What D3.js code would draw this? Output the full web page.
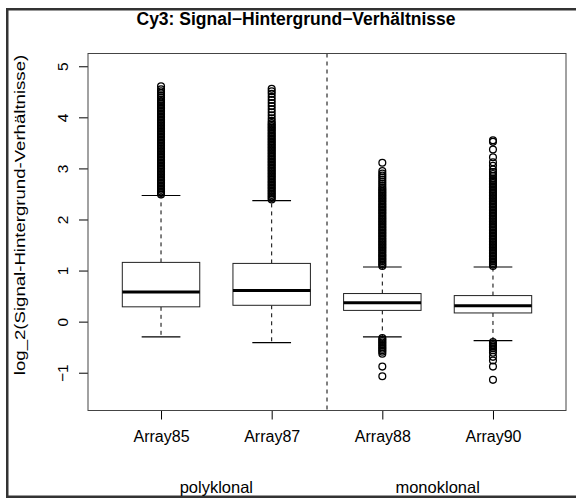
<!DOCTYPE html>
<html>
<head>
<meta charset="utf-8">
<script src="https://cdn.jsdelivr.net/npm/d3@7"></script>
<style>
  body { margin: 0; background: #fff; }
  text { font-family: 'Liberation Sans', Arial, Helvetica, sans-serif; fill: #000; }
</style>
</head>
<body>
<script>
// boxplot stats
var categories = ['Array85', 'Array87', 'Array88', 'Array90'];
var groups = ['polyklonal', 'monoklonal'];
var groupPos = [1.5, 3.5];
var lowWhisker = [-0.30, -0.41, -0.30, -0.37];
var q1 = [0.29, 0.32, 0.22, 0.17];
var median = [0.58, 0.61, 0.37, 0.31];
var q3 = [1.16, 1.14, 0.55, 0.51];
var highWhisker = [2.47, 2.37, 1.07, 1.07];
var yTicks = [-1, 0, 1, 2, 3, 4, 5];

// outliers per array
var out85 = [2.49, 2.52, 2.55, 2.58, 2.61, 2.64, 2.67, 2.70, 2.73, 2.76, 2.79, 2.82, 2.85, 2.88, 2.91,
  2.94, 2.97, 3.00, 3.03, 3.06, 3.09, 3.12, 3.15, 3.18, 3.21, 3.24, 3.27, 3.30, 3.33, 3.36, 3.39,
  3.42, 3.45, 3.48, 3.51, 3.54, 3.57, 3.60, 3.63, 3.66, 3.69, 3.72, 3.75, 3.78, 3.81, 3.84, 3.87,
  3.90, 3.93, 3.96, 3.99, 4.02, 4.05, 4.08, 4.11, 4.14, 4.17, 4.20, 4.23, 4.26, 4.29, 4.32, 4.35,
  4.39, 4.43, 4.47, 4.51, 4.55, 4.61];
var out87 = [2.39, 2.42, 2.45, 2.48, 2.51, 2.54, 2.57, 2.60, 2.63, 2.66, 2.69, 2.72, 2.75, 2.78, 2.81,
  2.84, 2.87, 2.90, 2.93, 2.96, 2.99, 3.02, 3.05, 3.08, 3.11, 3.14, 3.17, 3.20, 3.23, 3.26, 3.29,
  3.32, 3.35, 3.38, 3.41, 3.44, 3.47, 3.50, 3.53, 3.56, 3.59, 3.62, 3.65, 3.68, 3.71, 3.74, 3.77,
  3.80, 3.83, 3.86, 3.89, 3.93, 3.98, 4.04, 4.10, 4.16, 4.22, 4.28, 4.34, 4.40, 4.46, 4.51, 4.56];
var out88 = [1.09, 1.12, 1.15, 1.18, 1.21, 1.24, 1.27, 1.30, 1.33, 1.36, 1.39, 1.42, 1.45, 1.48, 1.51,
  1.54, 1.57, 1.60, 1.63, 1.66, 1.69, 1.72, 1.75, 1.78, 1.81, 1.84, 1.87, 1.90, 1.93, 1.96, 1.99,
  2.02, 2.05, 2.08, 2.11, 2.14, 2.17, 2.20, 2.23, 2.26, 2.29, 2.32, 2.35, 2.38, 2.41, 2.44, 2.47,
  2.50, 2.53, 2.56, 2.59, 2.62, 2.66, 2.70, 2.74, 2.78, 2.82, 2.86, 2.90, 2.95, 3.11,
  -0.32, -0.35, -0.38, -0.41, -0.44, -0.47, -0.50, -0.53, -0.56, -0.59, -0.63, -0.88, -1.07];
var out90 = [1.09, 1.12, 1.15, 1.18, 1.21, 1.24, 1.27, 1.30, 1.33, 1.36, 1.39, 1.42, 1.45, 1.48, 1.51,
  1.54, 1.57, 1.60, 1.63, 1.66, 1.69, 1.72, 1.75, 1.78, 1.81, 1.84, 1.87, 1.90, 1.93, 1.96, 1.99,
  2.02, 2.05, 2.08, 2.11, 2.14, 2.17, 2.20, 2.23, 2.26, 2.29, 2.32, 2.35, 2.38, 2.41, 2.44, 2.47,
  2.50, 2.53, 2.56, 2.59, 2.62, 2.65, 2.68, 2.71, 2.74, 2.77, 2.80, 2.85, 2.89, 2.93, 2.98, 3.05,
  3.12, 3.22, 3.37, 3.52, 3.55,
  -0.40, -0.43, -0.46, -0.49, -0.52, -0.56, -0.61, -0.69, -0.76, -0.88, -1.14];
var outliers = [out85, out87, out88, out90];

var
  width = 576,
  height = 498,
  plot = { left: 88, right: 566, top: 53.5, bottom: 410.5 },
  boxHalf = 0.35,
  svg = d3.select('body').append('svg')
    .attr('width', width)
    .attr('height', height);

var x = d3.scaleLinear()
  .domain([0.34, 4.66])
  .range([plot.left, plot.right]);

var y = d3.scaleLinear()
  .domain([-1.74, 5.25])
  .range([plot.bottom, plot.top]);

// outer frame
svg.append('rect')
  .attr('x', 7.25).attr('y', 9.25)
  .attr('width', 600).attr('height', 487.5)
  .attr('fill', 'none')
  .attr('stroke', '#333')
  .attr('stroke-width', 2.5);

// title
svg.append('text')
  .attr('x', 296).attr('y', 25)
  .attr('text-anchor', 'middle')
  .style('font-size', '17.5px')
  .style('font-weight', 'bold')
  .text('Cy3: Signal\u2212Hintergrund\u2212Verhältnisse');

// y axis
var yAxis = svg.append('g')
  .attr('transform', 'translate(' + plot.left + ',0)')
  .call(d3.axisLeft(y)
    .tickValues(yTicks)
    .tickSize(9)
    .tickFormat(function (d) { return d < 0 ? '\u2212' + Math.abs(d) : d; }));
yAxis.select('.domain').remove();
yAxis.selectAll('line').attr('stroke', '#000');
yAxis.selectAll('text')
  .attr('transform', 'rotate(-90)')
  .attr('x', 0).attr('y', -20).attr('dy', 0)
  .attr('text-anchor', 'middle')
  .style('font-size', '15.5px')
  .style('font-family', "'Liberation Sans', Arial, sans-serif");

// the label in the picture is drawn with a wide font, so stretch it along its run
svg.append('text')
  .attr('transform', 'translate(25,215) rotate(-90) scale(1.2,1)')
  .attr('text-anchor', 'middle')
  .style('font-size', '15.5px')
  .text('log_2(Signal-Hintergrund-Verhältnisse)');

// x axis
var xAxis = svg.append('g')
  .attr('transform', 'translate(0,' + plot.bottom + ')')
  .call(d3.axisBottom(x)
    .tickValues([1, 2, 3, 4])
    .tickSize(9)
    .tickFormat(function (d) { return categories[d - 1]; }));
xAxis.select('.domain').remove();
xAxis.selectAll('line').attr('stroke', '#000');
xAxis.selectAll('text')
  .attr('y', 31).attr('dy', 0)
  .style('font-size', '16px')
  .style('font-family', "'Liberation Sans', Arial, sans-serif");

svg.selectAll('.group-label')
  .data(groups)
  .enter()
  .append('text')
  .attr('class', 'group-label')
  .attr('x', function (d, i) { return x(groupPos[i]); })
  .attr('y', 493)
  .attr('text-anchor', 'middle')
  .style('font-size', '16.5px')
  .text(function (d) { return d; });

// divider between groups
svg.append('line')
  .attr('x1', x(2.5)).attr('x2', x(2.5))
  .attr('y1', plot.top).attr('y2', plot.bottom)
  .attr('stroke', '#000')
  .attr('stroke-dasharray', '4,4');

var box = svg.selectAll('.box')
  .data(categories)
  .enter()
  .append('g')
  .attr('class', 'box');

// whiskers
box.append('line')
  .attr('x1', function (d, i) { return x(i + 1); })
  .attr('x2', function (d, i) { return x(i + 1); })
  .attr('y1', function (d, i) { return y(q3[i]); })
  .attr('y2', function (d, i) { return y(highWhisker[i]); })
  .attr('stroke', '#000')
  .attr('stroke-dasharray', '4,4');

box.append('line')
  .attr('x1', function (d, i) { return x(i + 1); })
  .attr('x2', function (d, i) { return x(i + 1); })
  .attr('y1', function (d, i) { return y(q1[i]); })
  .attr('y2', function (d, i) { return y(lowWhisker[i]); })
  .attr('stroke', '#000')
  .attr('stroke-dasharray', '4,4');

// staples
[highWhisker, lowWhisker].forEach(function (w) {
  box.append('line')
    .attr('x1', function (d, i) { return x(i + 1 - boxHalf / 2); })
    .attr('x2', function (d, i) { return x(i + 1 + boxHalf / 2); })
    .attr('y1', function (d, i) { return y(w[i]); })
    .attr('y2', function (d, i) { return y(w[i]); })
    .attr('stroke', '#000')
    .attr('stroke-width', 1.2);
});

box.append('rect')
  .attr('x', function (d, i) { return x(i + 1 - boxHalf); })
  .attr('width', x(1 + boxHalf) - x(1 - boxHalf))
  .attr('y', function (d, i) { return y(q3[i]); })
  .attr('height', function (d, i) { return y(q1[i]) - y(q3[i]); })
  .attr('fill', '#fff')
  .attr('stroke', '#222')
  .attr('stroke-width', 1);

box.append('line')
  .attr('x1', function (d, i) { return x(i + 1 - boxHalf); })
  .attr('x2', function (d, i) { return x(i + 1 + boxHalf); })
  .attr('y1', function (d, i) { return y(median[i]); })
  .attr('y2', function (d, i) { return y(median[i]); })
  .attr('stroke', '#000')
  .attr('stroke-width', 3);

box.selectAll('circle')
  .data(function (d, i) { return outliers[i].map(function (v) { return { pos: i + 1, v: v }; }); })
  .enter()
  .append('circle')
  .attr('cx', function (d) { return x(d.pos); })
  .attr('cy', function (d) { return y(d.v); })
  .attr('r', 3.4)
  .attr('fill', 'none')
  .attr('stroke', '#000')
  .attr('stroke-width', 1.3);

// plot frame
svg.append('rect')
  .attr('x', plot.left).attr('y', plot.top)
  .attr('width', plot.right - plot.left)
  .attr('height', plot.bottom - plot.top)
  .attr('fill', 'none')
  .attr('stroke', '#444')
  .attr('stroke-width', 1);
</script>
</body>
</html>
